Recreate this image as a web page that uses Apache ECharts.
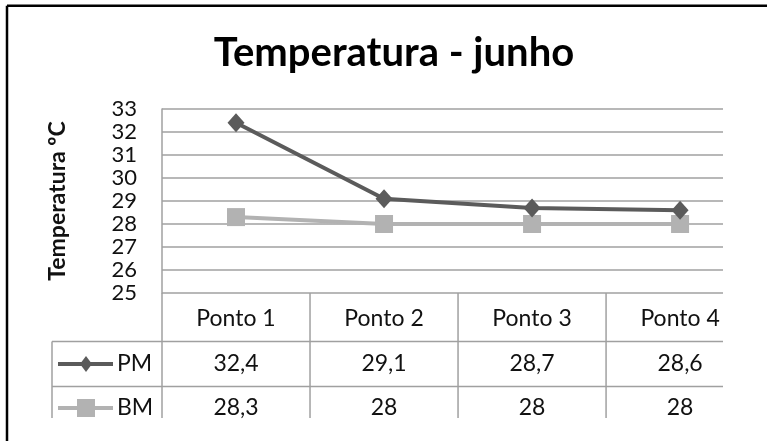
<!DOCTYPE html>
<html>
<head>
<meta charset="utf-8">
<script src="https://cdn.jsdelivr.net/npm/echarts@6/dist/echarts.min.js"></script>
<style>
html,body{margin:0;padding:0;background:#fff;}
#chart{width:767px;height:441px;}
</style>
</head>
<body>
<div id="chart"></div>
<script>
const titleText = 'Temperatura - junho';
const yAxisName = 'Temperatura ºC';
const categories = ['Ponto 1', 'Ponto 2', 'Ponto 3', 'Ponto 4'];
const seriesNames = ['PM', 'BM'];
const pmValues = [32.4, 29.1, 28.7, 28.6];
const bmValues = [28.3, 28, 28, 28];
const yMin = 25, yMax = 33, yStep = 1;

const FONT = 'Lato';
const PM_COLOR = '#5b5b5b';
const BM_COLOR = '#b2b2b2';
const GRID_COLOR = '#a0a0a0';
const TEXT_COLOR = '#111';

const chart = echarts.init(document.getElementById('chart'), null, {renderer: 'canvas'});

const idx = categories.map((c, i) => i);
chart.setOption({
  animation: false,
  backgroundColor: '#fff',
  grid: {left: 162, right: 44, top: 109, bottom: 148},
  xAxis: {
    type: 'value', min: -0.5, max: 3.29,
    axisLine: {show: false}, axisTick: {show: false}, axisLabel: {show: false},
    splitLine: {show: false}
  },
  yAxis: {
    type: 'value', min: yMin, max: yMax, interval: yStep,
    name: yAxisName, nameLocation: 'middle', nameRotate: 90, nameGap: 93,
    nameTextStyle: {fontFamily: FONT, fontWeight: 'bold', fontSize: 23, color: TEXT_COLOR},
    axisLine: {show: true, onZero: false, lineStyle: {color: GRID_COLOR, width: 1.5}},
    axisTick: {show: false},
    axisLabel: {fontFamily: FONT, fontSize: 22, color: TEXT_COLOR, margin: 25},
    splitLine: {show: true, lineStyle: {color: GRID_COLOR, width: 1.5}}
  },
  series: [
    {
      name: seriesNames[1], type: 'line',
      data: idx.map(i => [i, bmValues[i]]),
      symbol: 'rect', symbolSize: 18,
      lineStyle: {color: BM_COLOR, width: 4},
      itemStyle: {color: BM_COLOR},
      z: 2
    },
    {
      name: seriesNames[0], type: 'line',
      data: idx.map(i => [i, pmValues[i]]),
      symbol: 'diamond', symbolSize: [17, 19],
      lineStyle: {color: PM_COLOR, width: 4},
      itemStyle: {color: PM_COLOR},
      z: 3
    }
  ]
});

// Build data table from the axes' own scales
const px = v => chart.convertToPixel({xAxisIndex: 0}, v);
const py = v => chart.convertToPixel({yAxisIndex: 0}, v);
const tableTop = py(yMin);
const plotLeft = px(-0.5);
const plotRight = px(3.29);
const rowLine1 = tableTop + 48.5;
const rowLine2 = rowLine1 + 45;
const tableBottom = 418;
const tableLeft = 52;
const fmt = v => String(v).replace('.', ',');

const g = [];
const line = (x1, y1, x2, y2, color, w) => g.push({
  type: 'line', shape: {x1, y1, x2, y2},
  style: {stroke: color || GRID_COLOR, lineWidth: w || 1.5}, silent: true
});
// chart frame (continues past the right and bottom edges)
g.push({type: 'line', shape: {x1: 7, y1: 5.7, x2: 800, y2: 5.7},
  style: {stroke: '#000', lineWidth: 2.5}, silent: true});
g.push({type: 'line', shape: {x1: 7, y1: 5.7, x2: 7, y2: 500},
  style: {stroke: '#000', lineWidth: 2.5}, silent: true});
// title
g.push({type: 'text', x: 394, y: 53, style: {text: titleText, font: 'bold 40px ' + FONT,
  fill: '#000', textAlign: 'center', textVerticalAlign: 'middle'}});
// table lines
line(plotLeft, tableTop, plotLeft, tableBottom);
for (let i = 0; i < categories.length - 1; i++) {
  line(px(i + 0.5), tableTop, px(i + 0.5), tableBottom);
}
line(tableLeft, rowLine1, plotRight, rowLine1);
line(tableLeft, rowLine2, plotRight, rowLine2);
line(tableLeft, rowLine1, tableLeft, tableBottom);
// table texts
const rows = [pmValues, bmValues];
const rowCenters = [(rowLine1 + rowLine2) / 2, rowLine2 + 21.5];
categories.forEach((c, i) => {
  g.push({type: 'text', x: px(i), y: (tableTop + rowLine1) / 2 + 1,
    style: {text: c, font: '23px ' + FONT, fill: TEXT_COLOR, textAlign: 'center', textVerticalAlign: 'middle'}});
  rows.forEach((r, k) => {
    g.push({type: 'text', x: px(i), y: rowCenters[k],
      style: {text: fmt(r[i]), font: '23px ' + FONT, fill: TEXT_COLOR, textAlign: 'center', textVerticalAlign: 'middle'}});
  });
});
// legend keys inside table
const keyColors = [PM_COLOR, BM_COLOR];
seriesNames.forEach((n, k) => {
  const y = rowCenters[k];
  g.push({type: 'line', shape: {x1: 58, y1: y, x2: 113, y2: y},
    style: {stroke: keyColors[k], lineWidth: 4}, silent: true});
  if (k === 0) {
    g.push({type: 'polygon', shape: {points: [[86, y - 8], [92, y], [86, y + 8], [80, y]]},
      style: {fill: keyColors[k]}, silent: true});
  } else {
    g.push({type: 'rect', shape: {x: 77, y: y - 9, width: 18, height: 18},
      style: {fill: keyColors[k]}, silent: true});
  }
  g.push({type: 'text', x: 117, y: y,
    style: {text: n, font: '23px ' + FONT, fill: TEXT_COLOR, textAlign: 'left', textVerticalAlign: 'middle'}});
});

chart.setOption({graphic: {elements: g}});
</script>
</body>
</html>
